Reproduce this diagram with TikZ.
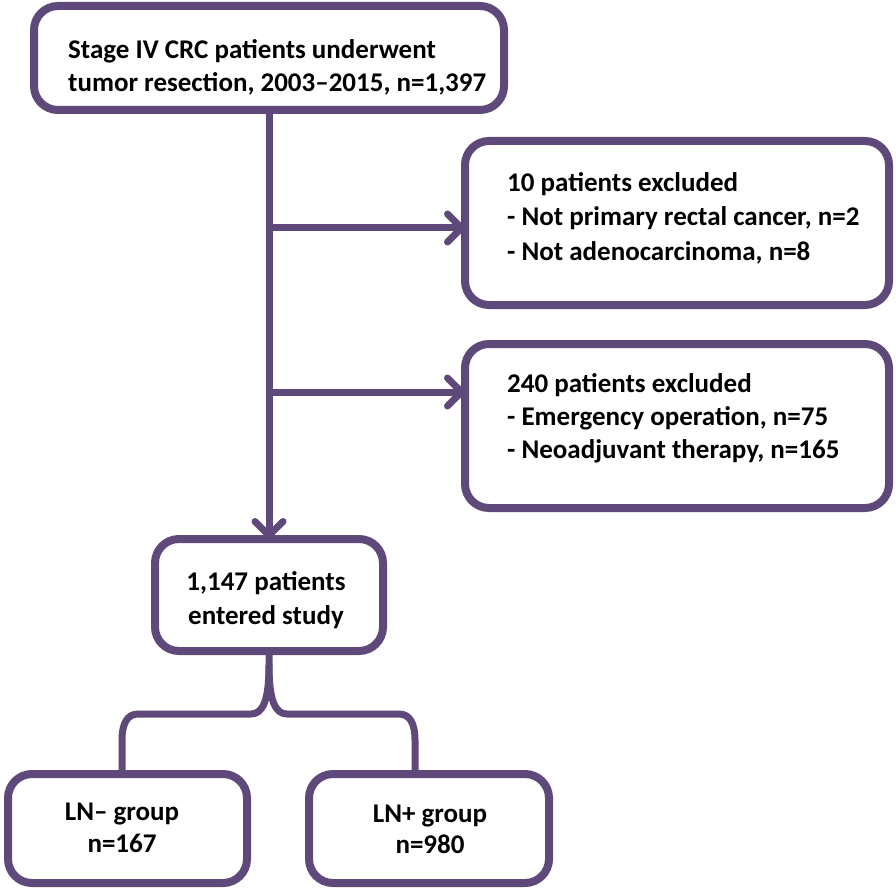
\documentclass[tikz,border=0pt]{standalone}
\usepackage{fontspec}
\setmainfont{Carlito}
\usetikzlibrary{arrows.meta,calc}
\definecolor{purp}{HTML}{5F497A}
\begin{document}
\begin{tikzpicture}[x=1pt,y=-1pt,
  box/.style={draw=purp,line width=8pt,rounded corners=24pt,fill=white,inner sep=0pt,outer sep=0pt},
  txt/.style={font=\fontsize{27}{34}\selectfont\bfseries,inner sep=0pt,text=black},
  conn/.style={draw=purp,line width=7pt},
  arr/.style={conn,-{Straight Barb[length=14pt,width=28pt,round]}}]
\useasboundingbox (0,0) rectangle (896,893);
% boxes
\node[box,minimum width=470pt,minimum height=104pt] (top) at (269,58) {};
\node[box,minimum width=424pt,minimum height=164pt] (excl1) at (677,223) {};
\node[box,minimum width=424pt,minimum height=164pt] (excl2) at (677,426) {};
\node[box,minimum width=228pt,minimum height=112pt] (study) at (269,595) {};
\node[box,minimum width=239pt,minimum height=109pt] (lnm) at (127.5,828.5) {};
\node[box,minimum width=240pt,minimum height=109pt] (lnp) at (429,828.5) {};
% texts
\node[txt,anchor=base west] (t1) at (68,59) {Stage IV CRC patients underwent};
\node[txt,anchor=base west] (t2) at (68,92) {tumor resection, 2003–2015, n=1,397};
\node[txt,anchor=base west] (e11) at (507,192) {10 patients excluded};
\node[txt,anchor=base west] (e12) at (507,226) {- Not primary rectal cancer, n=2};
\node[txt,anchor=base west] (e13) at (507,260) {- Not adenocarcinoma, n=8};
\node[txt,anchor=base west] (e21) at (507,392) {240 patients excluded};
\node[txt,anchor=base west] (e22) at (507,425) {- Emergency operation, n=75};
\node[txt,anchor=base west] (e23) at (507,458) {- Neoadjuvant therapy, n=165};
\node[txt,anchor=base] (s1) at (266,590) {1,147 patients};
\node[txt,anchor=base] (s2) at (266,624) {entered study};
\node[txt,anchor=base] (m1) at (122,820) {LN– group};
\node[txt,anchor=base] (m2) at (122,852) {n=167};
\node[txt,anchor=base] (p1) at (430,822) {LN+ group};
\node[txt,anchor=base] (p2) at (430,853) {n=980};
% connector points
\coordinate (a1) at ($(excl1.west)+(0,5)$);
\coordinate (a2) at ($(excl2.west)+(0,-34)$);
\coordinate (lt) at ($(lnm.north)+(-5.5,0)$);
\coordinate (rt) at ($(lnp.north)+(-14,0)$);
% connectors
\draw[arr] (top.south) -- (study.north);
\draw[arr] (top.south |- a1) -- (a1);
\draw[arr] (top.south |- a2) -- (a2);
\draw[conn,line join=round] (study.south) -- (269,665)
  .. controls (269,700) and (263,714) .. (251,714) -- (138,714)
  .. controls (127,714) and (122,724) .. (122,740) -- (lt);
\draw[conn,line join=round] (269,665)
  .. controls (269,700) and (275,714) .. (287,714) -- (399,714)
  .. controls (410,714) and (415,724) .. (415,740) -- (rt);
\end{tikzpicture}
\end{document}
